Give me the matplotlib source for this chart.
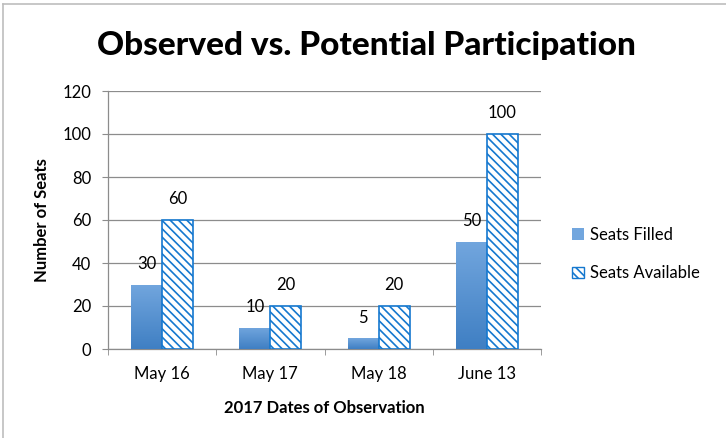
import numpy as np
import matplotlib
matplotlib.use('Agg')
import matplotlib.pyplot as plt
from matplotlib.lines import Line2D
from matplotlib.patches import Patch
from matplotlib.colors import LinearSegmentedColormap

dates = ['May 16', 'May 17', 'May 18', 'June 13']
seats_filled = [30, 10, 5, 50]
seats_available = [60, 20, 20, 100]
y_ticks = [0, 20, 40, 60, 80, 100, 120]

FILL_TOP = '#72a6de'
FILL_BOTTOM = '#3f7fc3'
HATCH_BLUE = '#1578cf'
GRID = '#8c8c8c'


def main():
    plt.rcParams['font.family'] = ['Lato', 'DejaVu Sans']
    plt.rcParams['hatch.linewidth'] = 1.2

    W, H = 726, 438
    fig = plt.figure(figsize=(W / 100, H / 100), dpi=100)
    ax = fig.add_axes([108 / W, 1 - 349 / H, (541 - 108) / W, (349 - 91) / H])

    x = np.arange(len(dates))
    width = 0.286

    # filled seats: gradient-shaded bars
    filled = ax.bar(x - width / 2, seats_filled, width, color='none', edgecolor='none', zorder=3)
    grad = np.linspace(0, 1, 256).reshape(-1, 1)
    cmap = LinearSegmentedColormap.from_list('fill', [FILL_BOTTOM, FILL_TOP])
    for rect in filled:
        x0, y0 = rect.get_x(), rect.get_y()
        im = ax.imshow(grad, cmap=cmap, aspect='auto', origin='lower',
                       extent=[x0, x0 + rect.get_width(), y0, y0 + rect.get_height()],
                       zorder=3)
        im.set_clip_path(rect)

    # available seats: hatched bars
    avail = ax.bar(x + width / 2, seats_available, width, color='white',
                   edgecolor=HATCH_BLUE, hatch='\\\\\\\\', linewidth=1.2, zorder=3)

    for rect, v in zip(filled, seats_filled):
        ax.annotate(str(v), (rect.get_x() + rect.get_width() / 2, v),
                    xytext=(0, 9), textcoords='offset points',
                    ha='center', va='bottom', fontsize=12)
    for rect, v in zip(avail, seats_available):
        ax.annotate(str(v), (rect.get_x() + rect.get_width() / 2, v),
                    xytext=(0, 9), textcoords='offset points',
                    ha='center', va='bottom', fontsize=12)

    ax.set_xlim(-0.5, len(dates) - 0.5)
    ax.set_ylim(0, 120)
    ax.set_yticks(y_ticks)
    ax.set_xticks(x)
    ax.set_xticklabels(dates)
    ax.set_xticks(np.arange(len(dates) + 1) - 0.5, minor=True)
    ax.tick_params(axis='x', which='major', length=0, pad=12, labelsize=12)
    ax.tick_params(axis='x', which='minor', length=4, color=GRID, direction='out')
    ax.tick_params(axis='y', length=4, color=GRID, pad=8, labelsize=12)

    ax.yaxis.grid(True, color=GRID, linewidth=0.9)
    ax.set_axisbelow(True)
    for side in ['top', 'right']:
        ax.spines[side].set_visible(False)
    for side in ['left', 'bottom']:
        ax.spines[side].set_color(GRID)
        ax.spines[side].set_linewidth(0.9)

    ax.set_xlabel('2017 Dates of Observation', fontsize=12, fontweight='bold', labelpad=13)
    ax.set_ylabel('Number of Seats', fontsize=12, fontweight='bold', labelpad=9)

    fig.text(0.505, 1 - 45 / H, 'Observed vs. Potential Participation',
             ha='center', va='center', fontsize=24, fontweight='black')

    handles = [Patch(facecolor=FILL_TOP, edgecolor='none'),
               Patch(facecolor='white', edgecolor=HATCH_BLUE, hatch='\\\\\\\\')]
    fig.legend(handles, ['Seats Filled', 'Seats Available'],
               loc='center left', bbox_to_anchor=(557 / W, 1 - 254 / H),
               frameon=False, fontsize=12, handlelength=0.7, handleheight=0.7,
               handletextpad=0.4, labelspacing=1.35)

    # outer frame
    fig.add_artist(Line2D([3 / W, 1], [1 - 4 / H, 1 - 4 / H], color='#bdbdbd', linewidth=1.2))
    fig.add_artist(Line2D([3 / W, 3 / W], [0, 1 - 4 / H], color='#bdbdbd', linewidth=1.2))

    fig.savefig('out.png', dpi=100)


if __name__ == '__main__':
    main()
